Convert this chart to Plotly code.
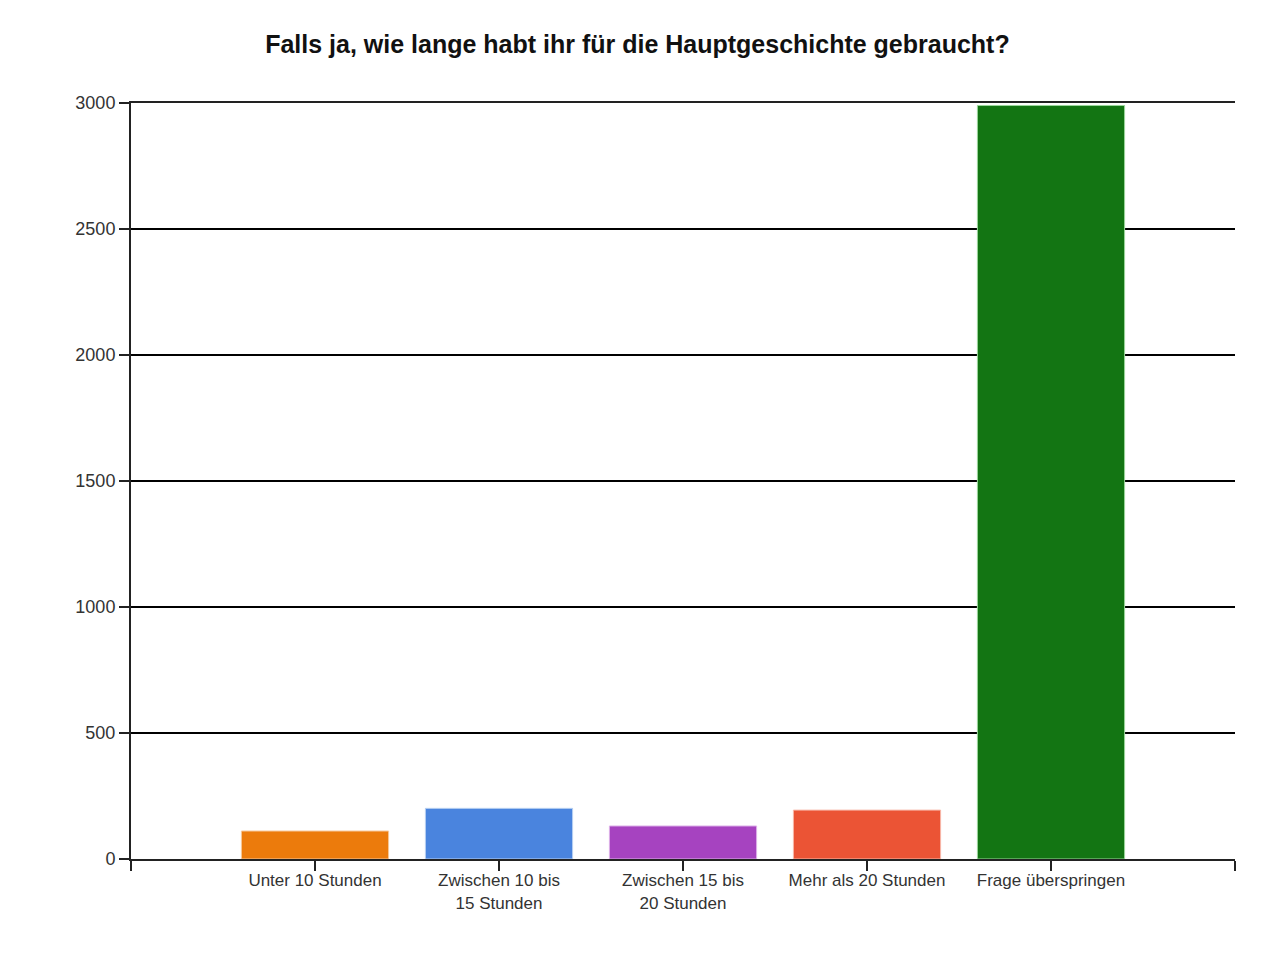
import plotly.graph_objects as go

categories = ["Unter 10 Stunden", "Zwischen 10 bis<br>15 Stunden", "Zwischen 15 bis<br>20 Stunden",
              "Mehr als 20 Stunden", "Frage überspringen"]
values = [111, 201, 131, 194, 2990]
positions = [1, 2, 3, 4, 5]
colors = ["#EC7B0C", "#4A84DE", "#A643C0", "#EB5435", "#137513"]
edge_colors = ["#F6C89A", "#B8D0F2", "#DDB0E8", "#F8B8A8", "#9CD89C"]

fig = go.Figure()
fig.add_trace(go.Bar(
    x=positions, y=values, width=0.8,
    marker=dict(color=colors, line=dict(color=edge_colors, width=1)),
    showlegend=False,
))

fig.update_layout(
    width=1280, height=960,
    margin=dict(l=131, r=45, t=103, b=101),
    paper_bgcolor="white", plot_bgcolor="white",
    font=dict(family="Liberation Sans, Arial, sans-serif", color="#222222"),
    title=dict(text="<b>Falls ja, wie lange habt ihr für die Hauptgeschichte gebraucht?</b>",
               x=0.498, xanchor="center", y=0.954, yanchor="middle",
               font=dict(size=25, color="#111111")),
    bargap=0.2,
)
fig.update_xaxes(
    range=[0, 6], tickmode="array", tickvals=[0, 1, 2, 3, 4, 5, 6],
    ticktext=[""] + categories + [""],
    ticks="outside", ticklen=10, tickcolor="#222222", tickwidth=2,
    showline=True, linecolor="#222222", linewidth=2, mirror=True,
    showgrid=False, zeroline=False,
    tickfont=dict(size=17, color="#333333"), ticklabelstandoff=-5,
)
fig.update_yaxes(
    range=[0, 3000], dtick=500, tick0=0,
    ticks="outside", ticklen=10, tickcolor="#222222", tickwidth=2,
    showline=True, linecolor="#222222", linewidth=2,
    showgrid=True, gridcolor="#000000", gridwidth=1.5, zeroline=False,
    tickfont=dict(size=18, color="#333333"),
)

fig.write_html("out.html")
